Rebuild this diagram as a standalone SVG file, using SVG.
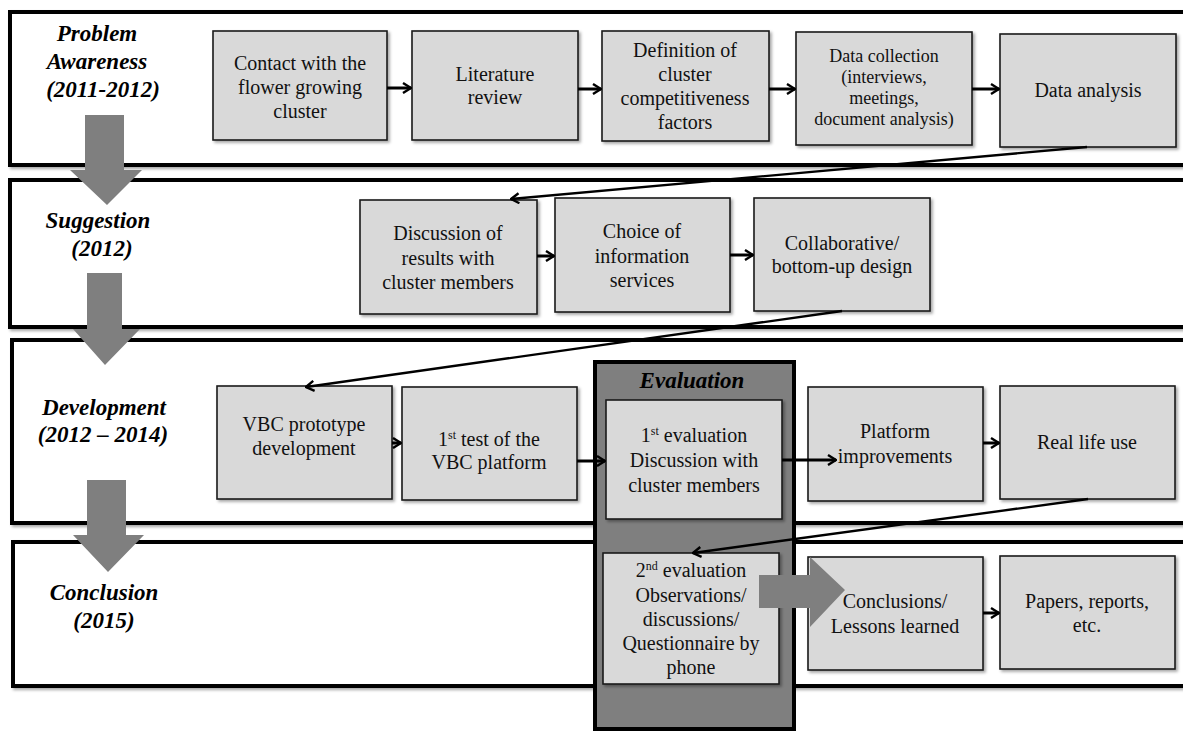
<svg xmlns="http://www.w3.org/2000/svg" width="1183" height="731" viewBox="0 0 1183 731">
  <defs>
    <filter id="shadow" x="-5%" y="-5%" width="115%" height="120%">
      <feDropShadow dx="2" dy="2" stdDeviation="1.5" flood-color="#000" flood-opacity="0.35"/>
    </filter>
    <marker id="head" viewBox="0 0 10 12" refX="9" refY="6" markerWidth="10" markerHeight="12" markerUnits="userSpaceOnUse" orient="auto">
      <path d="M1,1 L9,6 L1,11" fill="none" stroke="#000" stroke-width="2.4"/>
    </marker>
  </defs>
  <style>
    text { font-family: "Liberation Serif", "Times New Roman", Tinos, "DejaVu Serif", serif; }
    .lane { fill: #fff; stroke: #000; stroke-width: 4; filter: url(#shadow); }
    .phase { font-size: 23px; font-weight: bold; font-style: italic; fill: #000; text-anchor: middle; }
    .down { fill: #7f7f7f; }
    .box { fill: #d9d9d9; stroke: #1a1a1a; stroke-width: 1.6; filter: url(#shadow); }
    .label { font-size: 20px; fill: #111; text-anchor: middle; }
    .small { font-size: 18px; }
    .sup { font-size: 12px; }
    .conn { stroke: #000; stroke-width: 3; fill: none; marker-end: url(#head); }
    .diag { stroke: #000; stroke-width: 2.4; fill: none; marker-end: url(#head); }
    .eval { fill: #7f7f7f; stroke: #000; stroke-width: 4; }
  </style>

  <!-- swim lanes -->
  <g id="lanes">
    <rect class="lane" x="10" y="12" width="1200" height="153"/>
    <rect class="lane" x="10" y="180" width="1200" height="147"/>
    <rect class="lane" x="12" y="340" width="1200" height="183"/>
    <rect class="lane" x="13" y="542" width="1200" height="144"/>
  </g>

  <!-- phase labels -->
  <g id="phase-problem">
    <text class="phase" x="97" y="41">Problem</text>
    <text class="phase" x="97" y="69">Awareness</text>
    <text class="phase" x="103" y="97">(2011-2012)</text>
  </g>
  <g id="phase-suggestion">
    <text class="phase" x="98" y="228">Suggestion</text>
    <text class="phase" x="102" y="256">(2012)</text>
  </g>
  <g id="phase-development">
    <text class="phase" x="104" y="415">Development</text>
    <text class="phase" x="103" y="442">(2012 – 2014)</text>
  </g>
  <g id="phase-conclusion">
    <text class="phase" x="104" y="600">Conclusion</text>
    <text class="phase" x="104" y="628">(2015)</text>
  </g>

  <!-- phase transition arrows -->
  <g id="phase-arrows">
    <polygon class="down" points="85,115 124,115 124,170 142,170 107,205 70,170 85,170"/>
    <polygon class="down" points="87,273 122,273 122,329 140,329 105,365 73,329 87,329"/>
    <polygon class="down" points="87,480 126,480 126,535 144,535 108,572 73,535 87,535"/>
  </g>

  <!-- evaluation container -->
  <g id="evaluation">
    <rect class="eval" x="595" y="362" width="199" height="367"/>
    <text class="phase" x="692" y="388">Evaluation</text>
  </g>

  <!-- problem awareness steps -->
  <g id="contact">
    <rect class="box" x="213" y="31" width="174" height="109"/>
    <text class="label" x="300" y="70">Contact with the</text>
    <text class="label" x="300" y="94">flower growing</text>
    <text class="label" x="300" y="118">cluster</text>
  </g>
  <g id="literature">
    <rect class="box" x="412" y="31" width="166" height="109"/>
    <text class="label" x="495" y="81">Literature</text>
    <text class="label" x="495" y="104">review</text>
  </g>
  <g id="definition">
    <rect class="box" x="602" y="31" width="167" height="110"/>
    <text class="label" x="685" y="57">Definition of</text>
    <text class="label" x="685" y="81">cluster</text>
    <text class="label" x="685" y="105">competitiveness</text>
    <text class="label" x="685" y="129">factors</text>
  </g>
  <g id="data-collection">
    <rect class="box" x="796" y="32" width="176" height="113"/>
    <text class="label small" x="884" y="62">Data collection</text>
    <text class="label small" x="884" y="83">(interviews,</text>
    <text class="label small" x="884" y="104">meetings,</text>
    <text class="label small" x="884" y="125">document analysis)</text>
  </g>
  <g id="data-analysis">
    <rect class="box" x="1000" y="34" width="176" height="113"/>
    <text class="label" x="1088" y="97">Data analysis</text>
  </g>

  <!-- suggestion steps -->
  <g id="discussion">
    <rect class="box" x="360" y="200" width="177" height="114"/>
    <text class="label" x="448" y="240">Discussion of</text>
    <text class="label" x="448" y="265">results with</text>
    <text class="label" x="448" y="289">cluster members</text>
  </g>
  <g id="choice">
    <rect class="box" x="555" y="198" width="175" height="114"/>
    <text class="label" x="642" y="238">Choice of</text>
    <text class="label" x="642" y="263">information</text>
    <text class="label" x="642" y="287">services</text>
  </g>
  <g id="collaborative">
    <rect class="box" x="754" y="198" width="176" height="113"/>
    <text class="label" x="842" y="250">Collaborative/</text>
    <text class="label" x="842" y="273">bottom-up design</text>
  </g>

  <!-- development steps -->
  <g id="prototype">
    <rect class="box" x="217" y="386" width="175" height="113"/>
    <text class="label" x="304" y="431">VBC prototype</text>
    <text class="label" x="304" y="455">development</text>
  </g>
  <g id="first-test">
    <rect class="box" x="402" y="387" width="175" height="113"/>
    <text class="label" x="489" y="446">1<tspan class="sup" dy="-7">st</tspan><tspan dy="7"> test of the</tspan></text>
    <text class="label" x="489" y="469">VBC platform</text>
  </g>
  <g id="first-evaluation">
    <rect class="box" x="606" y="400" width="176" height="119"/>
    <text class="label" x="694" y="442">1<tspan class="sup" dy="-7">st</tspan><tspan dy="7"> evaluation</tspan></text>
    <text class="label" x="694" y="467">Discussion with</text>
    <text class="label" x="694" y="492">cluster members</text>
  </g>
  <g id="improvements">
    <rect class="box" x="808" y="387" width="175" height="114"/>
    <text class="label" x="895" y="438">Platform</text>
    <text class="label" x="895" y="463">improvements</text>
  </g>
  <g id="real-life">
    <rect class="box" x="1000" y="386" width="175" height="113"/>
    <text class="label" x="1087" y="449">Real life use</text>
  </g>

  <!-- conclusion steps -->
  <g id="second-evaluation">
    <rect class="box" x="603" y="553" width="176" height="131"/>
    <text class="label" x="691" y="577">2<tspan class="sup" dy="-7">nd</tspan><tspan dy="7"> evaluation</tspan></text>
    <text class="label" x="691" y="602">Observations/</text>
    <text class="label" x="691" y="626">discussions/</text>
    <text class="label" x="691" y="650">Questionnaire by</text>
    <text class="label" x="691" y="674">phone</text>
  </g>
  <g id="lessons">
    <rect class="box" x="808" y="557" width="175" height="113"/>
    <text class="label" x="895" y="608">Conclusions/</text>
    <text class="label" x="895" y="633">Lessons learned</text>
  </g>
  <g id="papers">
    <rect class="box" x="1000" y="556" width="175" height="113"/>
    <text class="label" x="1087" y="608">Papers, reports,</text>
    <text class="label" x="1087" y="632">etc.</text>
  </g>

  <!-- connectors -->
  <g id="connectors">
    <line class="conn" x1="387" y1="88" x2="411" y2="88"/>
    <line class="conn" x1="578" y1="89" x2="601" y2="89"/>
    <line class="conn" x1="769" y1="89" x2="795" y2="89"/>
    <line class="conn" x1="972" y1="89" x2="999" y2="89"/>
    <line class="diag" x1="1087" y1="147" x2="511" y2="199"/>
    <line class="conn" x1="537" y1="256" x2="554" y2="256"/>
    <line class="conn" x1="730" y1="255" x2="753" y2="255"/>
    <line class="diag" x1="842" y1="311" x2="306" y2="387"/>
    <line class="conn" x1="392" y1="443" x2="401" y2="443"/>
    <line class="conn" x1="577" y1="461" x2="605" y2="461"/>
    <line class="conn" x1="782" y1="460" x2="836" y2="460"/>
    <line class="conn" x1="983" y1="443" x2="999" y2="443"/>
    <line class="diag" x1="1088" y1="499" x2="693" y2="553"/>
    <line class="conn" x1="983" y1="613" x2="999" y2="613"/>
    <!-- broad arrow from the second evaluation into the conclusions -->
    <polygon class="down" points="759,575 810,575 810,557 845,590 810,627 810,608 759,608"/>
  </g>
</svg>
